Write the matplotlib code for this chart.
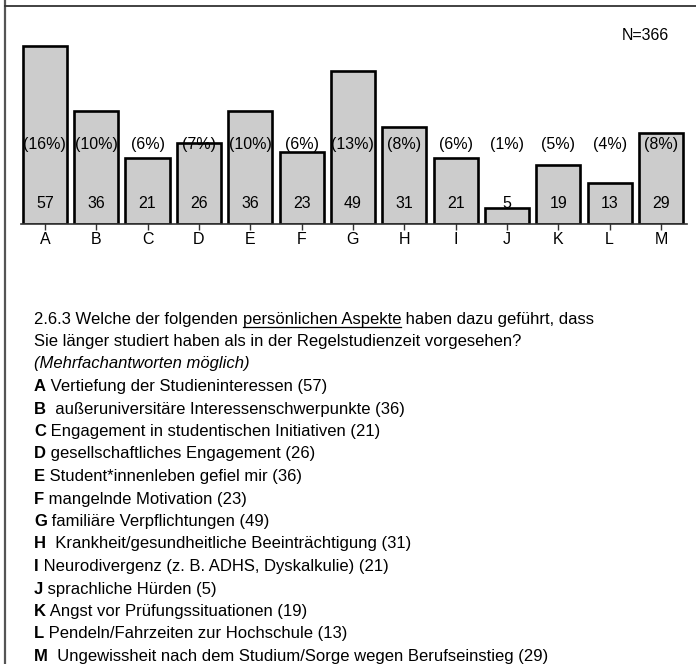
import matplotlib
matplotlib.use("Agg")
import matplotlib.pyplot as plt
from matplotlib.lines import Line2D

plt.rcParams['font.family'] = ['Liberation Sans', 'DejaVu Sans']

categories = ["A", "B", "C", "D", "E", "F", "G", "H", "I", "J", "K", "L", "M"]
counts = [57, 36, 21, 26, 36, 23, 49, 31, 21, 5, 19, 13, 29]
percents = [16, 10, 6, 7, 10, 6, 13, 8, 6, 1, 5, 4, 8]
n_total = 366
descriptions = [
    "Vertiefung der Studieninteressen",
    "außeruniversitäre Interessenschwerpunkte",
    "Engagement in studentischen Initiativen",
    "gesellschaftliches Engagement",
    "Student*innenleben gefiel mir",
    "mangelnde Motivation",
    "familiäre Verpflichtungen",
    "Krankheit/gesundheitliche Beeinträchtigung",
    "Neurodivergenz (z. B. ADHS, Dyskalkulie)",
    "sprachliche Hürden",
    "Angst vor Prüfungssituationen",
    "Pendeln/Fahrzeiten zur Hochschule",
    "Ungewissheit nach dem Studium/Sorge wegen Berufseinstieg",
]
gaps = [" ", "  ", " ", " ", " ", " ", " ", "  ", " ", " ", " ", " ", "  "]

W, H = 696, 664
fig = plt.figure(figsize=(W / 100, H / 100), dpi=100)

def fx(px):
    return px / W

def fy(py):
    return 1 - py / H

# axes geometry
x_left, x_right = 20.7, 686.7
y_base = 224
ymax = 60
px_per_unit = 3.125
ax = fig.add_axes([fx(x_left), fy(y_base), (x_right - x_left) / W,
                   ymax * px_per_unit / H])
xs = list(range(len(categories)))
ax.bar(xs, counts, width=0.86, color="#cccccc", edgecolor="black",
       linewidth=1.9, zorder=2)
ax.set_xlim(-0.47, 12.5)
ax.set_ylim(0, ymax)
for s in ["top", "right", "left"]:
    ax.spines[s].set_visible(False)
ax.spines["bottom"].set_color("#333333")
ax.spines["bottom"].set_linewidth(1.2)
ax.set_yticks([])
ax.set_xticks(xs)
ax.set_xticklabels(categories, fontsize=11.5)
ax.tick_params(axis="x", direction="inout", length=8, width=1,
               color="#333333", pad=2)
for x, c, p in zip(xs, counts, percents):
    ax.text(x, 6.4, str(c), ha="center", va="center", fontsize=11.5, zorder=3)
    ax.text(x, 25.3, f"({p}%)", ha="center", va="center", fontsize=11.5, zorder=3)

fig.text(fx(645), fy(35), f"N={n_total}", ha="center", va="center", fontsize=11.5)

# frame lines
fig.add_artist(Line2D([fx(4.5), fx(4.5)], [0, 1], color="#555555", linewidth=1.6))
fig.add_artist(Line2D([fx(4.5), 1], [fy(6), fy(6)], color="#333333", linewidth=1.3))

# text block
renderer = fig.canvas.get_renderer()
x0 = 34
line_h = 22.5
y0 = 318
fs = 12
base_off = 5.5

def put(xpx, ypx, s, **kw):
    yb = round(ypx + base_off)
    t = fig.text(fx(xpx), fy(yb), s, ha="left", va="baseline",
                 fontsize=fs, **kw)
    bb = t.get_window_extent(renderer=renderer)
    return t, bb

t1, bb1 = put(x0, y0, "2.6.3 Welche der folgenden ")
t2, bb2 = put(bb1.x1, y0, "persönlichen Aspekte")
put(bb2.x1, y0, " haben dazu geführt, dass")
fig.add_artist(Line2D([fx(bb2.x0), fx(bb2.x1)], [fy(y0 + 9), fy(y0 + 9)],
                      color="black", linewidth=0.9))
put(x0, y0 + line_h, "Sie länger studiert haben als in der Regelstudienzeit vorgesehen?")
put(x0, y0 + 2 * line_h, "(Mehrfachantworten möglich)", style="italic")

for i, (cat, desc, cnt, g) in enumerate(zip(categories, descriptions, counts, gaps)):
    yy = y0 + (3 + i) * line_h
    tb, bbb = put(x0, yy, cat, weight="bold")
    put(bbb.x1, yy, f"{g}{desc} ({cnt})")

fig.savefig("out.png", dpi=100)
